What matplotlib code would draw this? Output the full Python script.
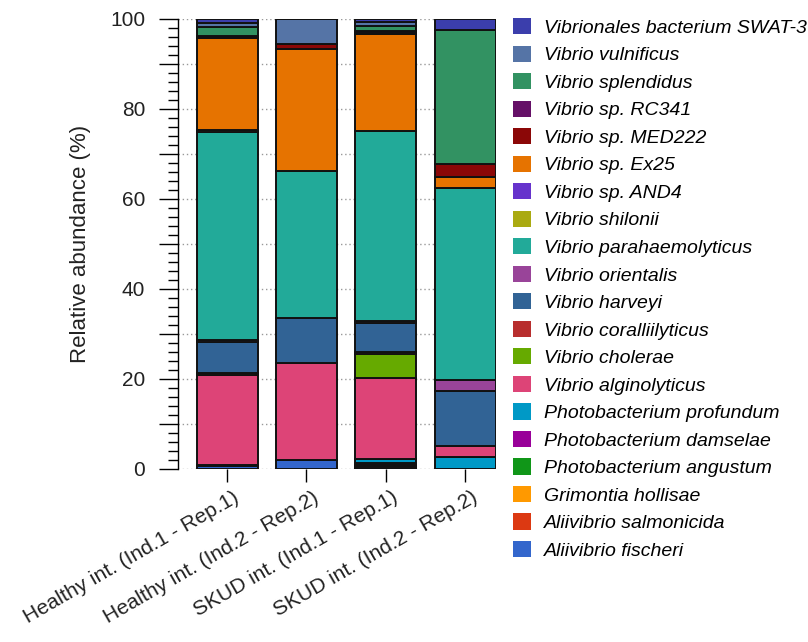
import matplotlib
matplotlib.use("Agg")
import matplotlib.pyplot as plt
from matplotlib.ticker import MultipleLocator, FuncFormatter
from matplotlib.patches import Patch
import matplotlib.transforms as mtransforms
import numpy as np

plt.rcParams['font.family'] = ['Liberation Sans', 'DejaVu Sans']

samples = ["Healthy int. (Ind.1 - Rep.1)", "Healthy int. (Ind.2 - Rep.2)",
           "SKUD int. (Ind.1 - Rep.1)", "SKUD int. (Ind.2 - Rep.2)"]

# stacking order: bottom -> top
species = ["Aliivibrio fischeri", "Aliivibrio salmonicida", "Grimontia hollisae",
           "Photobacterium angustum", "Photobacterium damselae", "Photobacterium profundum",
           "Vibrio alginolyticus", "Vibrio cholerae", "Vibrio coralliilyticus",
           "Vibrio harveyi", "Vibrio orientalis", "Vibrio parahaemolyticus",
           "Vibrio shilonii", "Vibrio sp. AND4", "Vibrio sp. Ex25", "Vibrio sp. MED222",
           "Vibrio sp. RC341", "Vibrio splendidus", "Vibrio vulnificus",
           "Vibrionales bacterium SWAT-3"]

colors = ["#3366cc", "#dc3912", "#ff9900", "#109618", "#990099", "#0099c6",
          "#dd4477", "#66aa00", "#b82e2e", "#316395", "#994499", "#22aa99",
          "#aaaa11", "#6633cc", "#e67300", "#8b0707", "#651067", "#329262",
          "#5574a6", "#3b3eac"]

values = [
    [0.6, 2.1, 0.3, 0.0],    # A. fischeri
    [0.2, 0.0, 0.3, 0.0],    # A. salmonicida
    [0.0, 0.0, 0.3, 0.0],    # G. hollisae
    [0.0, 0.0, 0.2, 0.0],    # P. angustum
    [0.0, 0.0, 0.3, 0.0],    # P. damselae
    [0.0, 0.0, 0.9, 2.6],    # P. profundum
    [20.1, 21.4, 17.9, 2.5], # V. alginolyticus
    [0.0, 0.0, 5.4, 0.0],    # V. cholerae
    [0.5, 0.0, 0.3, 0.0],    # V. coralliilyticus
    [6.9, 10.1, 6.5, 12.3],  # V. harveyi
    [0.4, 0.0, 0.4, 2.4],    # V. orientalis
    [46.3, 32.6, 42.3, 42.6],# V. parahaemolyticus
    [0.4, 0.0, 0.0, 0.0],    # V. shilonii
    [0.0, 0.0, 0.0, 0.0],    # V. sp. AND4
    [20.4, 27.1, 21.5, 2.6], # V. sp. Ex25
    [0.5, 1.1, 0.3, 2.7],    # V. sp. MED222
    [0.0, 0.0, 0.4, 0.0],    # V. sp. RC341
    [1.9, 0.0, 1.2, 29.9],   # V. splendidus
    [1.0, 5.6, 0.9, 0.0],    # V. vulnificus
    [0.8, 0.0, 0.6, 2.4],    # Vibrionales bacterium SWAT-3
]

fig = plt.figure(figsize=(8.08, 6.42), dpi=100)
ax = fig.add_axes([178/808, 1-469/642, (496-178)/808, (469-19)/642])

x = np.arange(len(samples))
bottom = np.zeros(len(samples))
for sp, col, vals in zip(species, colors, values):
    v = np.array(vals)
    ax.bar(x, v, bottom=bottom, width=0.77, color=col, edgecolor="#111111",
           linewidth=1.4, zorder=3, label=sp)
    bottom += v

ax.set_xlim(-0.62, 3.39)
ax.set_ylim(0, 100)
for s in ["top", "right", "bottom"]:
    ax.spines[s].set_visible(False)
ax.spines["left"].set_linewidth(1.0)

tick_color = "#222222"
ax.yaxis.set_major_locator(MultipleLocator(10))
ax.yaxis.set_minor_locator(MultipleLocator(2))
ax.yaxis.set_major_formatter(FuncFormatter(lambda v, p: f"{int(v)}" if int(round(v)) % 20 == 0 else ""))
ax.tick_params(axis="y", which="major", length=13.5, width=1.0, labelsize=15, pad=10,
               labelcolor=tick_color)
ax.tick_params(axis="y", which="minor", length=7, width=1.0)
ax.tick_params(axis="x", which="major", length=9.5, width=1.0, labelsize=15, pad=4,
               labelcolor=tick_color)

ax.set_xticks(x)
ax.set_xticklabels(samples, rotation=30, ha="right", rotation_mode="anchor")
offset = mtransforms.ScaledTranslation(6/100, 0, fig.dpi_scale_trans)
for lbl in ax.get_xticklabels():
    lbl.set_transform(lbl.get_transform() + offset)
ax.set_ylabel("Relative abundance (%)", fontsize=16, labelpad=14, color=tick_color)

for yv in range(0, 101, 10):
    ax.axhline(yv, color="#999999", linestyle=(0, (1, 2)), linewidth=1.0, zorder=1)

handles = [Patch(facecolor=c, edgecolor="none") for c in colors][::-1]
labels = species[::-1]
fig.legend(handles, labels, loc="upper left", bbox_to_anchor=(513/808, 1-18/642),
           frameon=False, prop={"style": "italic", "size": 14},
           handlelength=0.9, handleheight=0.9, handletextpad=0.7,
           labelspacing=0.45, borderaxespad=0, borderpad=0)

fig.savefig("out.png", dpi=100)
